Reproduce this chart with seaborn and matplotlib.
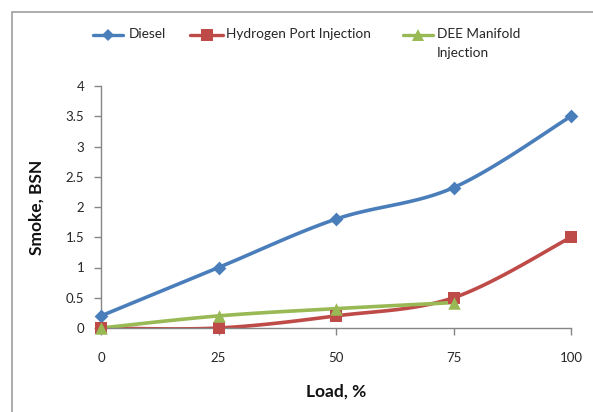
import numpy as np
import pandas as pd
import matplotlib
matplotlib.use("Agg")
import matplotlib.pyplot as plt
from matplotlib.lines import Line2D
from matplotlib.patches import Rectangle
import seaborn as sns

# Engine load (%) and smoke opacity (BSN)
load = [0, 25, 50, 75, 100]
diesel = [0.2, 1.0, 1.8, 2.32, 3.5]
hydrogen_port = [0.0, 0.0, 0.2, 0.5, 1.5]
dee_load = [0, 25, 50, 75]
dee_manifold = [0.0, 0.2, 0.32, 0.42]

series_names = ["Diesel", "Hydrogen Port Injection", "DEE Manifold\nInjection"]
colors = ["#4A7EBB", "#BE4B48", "#98B954"]
markers = ["D", "s", "^"]
marker_sizes = [7, 9, 9]

sns.set_theme(style="white")
plt.rcParams["font.family"] = ["Lato", "DejaVu Sans"]

W, H = 593, 412


def smooth(xs, ys, n=30):
    """Catmull-Rom style smoothed path through the given points."""
    xs = np.asarray(xs, float)
    ys = np.asarray(ys, float)
    px = np.concatenate([[xs[0]], xs, [xs[-1]]])
    py = np.concatenate([[ys[0]], ys, [ys[-1]]])
    out_x, out_y = [], []
    t = np.linspace(0, 1, n)
    for i in range(1, len(px) - 2):
        p0, p1, p2, p3 = (np.array([px[j], py[j]]) for j in range(i - 1, i + 3))
        c1 = p1 + (p2 - p0) / 6.0
        c2 = p2 - (p3 - p1) / 6.0
        b = ((1 - t) ** 3)[:, None] * p1 + (3 * (1 - t) ** 2 * t)[:, None] * c1 \
            + (3 * (1 - t) * t ** 2)[:, None] * c2 + (t ** 3)[:, None] * p2
        out_x.extend(b[:, 0])
        out_y.extend(b[:, 1])
    return np.array(out_x), np.array(out_y)


fig = plt.figure(figsize=(W / 100, H / 100), dpi=100)
ax = fig.add_axes([101 / W, 1 - 328 / H, 470 / W, 242 / H])

all_series = [(load, diesel), (load, hydrogen_port), (dee_load, dee_manifold)]
for (xs, ys), c, m, ms in zip(all_series, colors, markers, marker_sizes):
    sx, sy = smooth(xs, ys)
    curve = pd.DataFrame({"x": sx, "y": sy})
    sns.lineplot(data=curve, x="x", y="y", ax=ax, color=c, lw=2.6, sort=False,
                 estimator=None, legend=False, zorder=2)
    pts = pd.DataFrame({"x": xs, "y": ys})
    sns.scatterplot(data=pts, x="x", y="y", ax=ax, color=c, marker=m, s=ms ** 2,
                    edgecolor=c, linewidth=0, legend=False, zorder=3, clip_on=False)

ax.set_xlim(0, 100)
ax.set_ylim(0, 4)
ax.set_xticks(load)
ax.set_xticklabels([str(v) for v in load])
yt = [0, 0.5, 1, 1.5, 2, 2.5, 3, 3.5, 4]
ax.set_yticks(yt)
ax.set_yticklabels(["0", "0.5", "1", "1.5", "2", "2.5", "3", "3.5", "4"])

for s in ["top", "right"]:
    ax.spines[s].set_visible(False)
for s in ["left", "bottom"]:
    ax.spines[s].set_color("#868686")
    ax.spines[s].set_linewidth(1.0)
ax.tick_params(axis="both", which="major", direction="out", length=5, width=1,
               color="#868686", labelsize=9.5, labelcolor="#262626",
               left=True, bottom=True)
ax.tick_params(axis="y", pad=7)
ax.tick_params(axis="x", pad=12)

ax.set_xlabel("Load, %", fontsize=12.5, fontweight="bold", color="#111111", labelpad=14)
ax.set_ylabel("Smoke, BSN", fontsize=12.5, fontweight="bold", color="#111111")
ax.yaxis.set_label_coords(45 / W, 1 - 207 / H, transform=fig.transFigure)

# Chart-area frame
fig.patches.append(Rectangle((11.5 / W, -0.05), 1.1, 1 - 11.5 / H + 0.05,
                             transform=fig.transFigure, fill=False,
                             edgecolor="#A6A6A6", lw=1.3, zorder=0))

# Legend row across the top of the chart area
legend_slots = [(93, 123, 129), (190, 223, 226), (403, 433, 437)]
legend_y = 35
for (x0, x1, tx), name, c, m, ms in zip(legend_slots, series_names, colors,
                                        markers, marker_sizes):
    fig.add_artist(Line2D([x0 / W, x1 / W], [1 - legend_y / H] * 2, color=c, lw=2.4,
                          transform=fig.transFigure))
    fig.add_artist(Line2D([(x0 + x1) / 2 / W], [1 - legend_y / H], color=c,
                          marker=m, markersize=ms * 0.9, markeredgewidth=0,
                          linestyle="none", transform=fig.transFigure))
    fig.text(tx / W, 1 - (legend_y - 7.5) / H, name, fontsize=9.8, color="#262626",
             ha="left", va="top", linespacing=1.75)

fig.savefig("out.png", dpi=100)
